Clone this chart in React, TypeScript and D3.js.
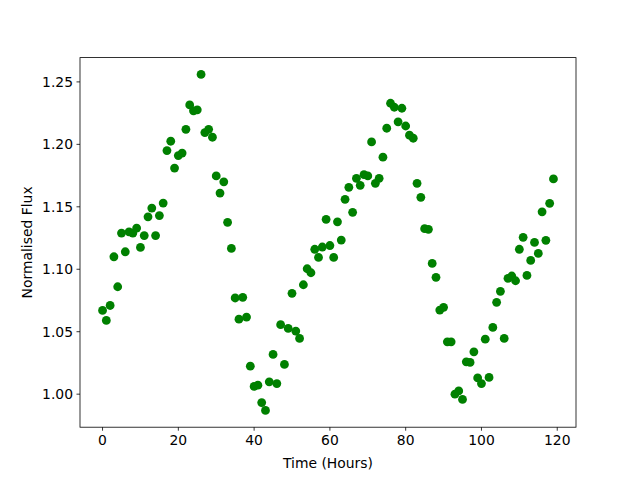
import React from 'react';
import * as d3 from 'd3';

// hourly samples, t = 0..119
const hours = d3.range(0, 120);
const flux = [
  1.067, 1.059, 1.071, 1.110, 1.086, 1.129, 1.114, 1.130, 1.129, 1.133,
  1.1175, 1.127, 1.142, 1.149, 1.127, 1.143, 1.153, 1.195, 1.2025, 1.181,
  1.191, 1.193, 1.212, 1.2316, 1.2268, 1.2276, 1.256, 1.2094, 1.212, 1.2057,
  1.1747, 1.161, 1.170, 1.1376, 1.1167, 1.077, 1.060, 1.0775, 1.0617, 1.0224,
  1.0062, 1.0072, 0.9933, 0.987, 1.0099, 1.0318, 1.0085, 1.0556, 1.0238, 1.0526,
  1.0807, 1.0505, 1.0446, 1.0876, 1.1004, 1.0972, 1.116, 1.1095, 1.1178, 1.140,
  1.119, 1.1095, 1.138, 1.1234, 1.156, 1.1656, 1.1456, 1.1728, 1.1672, 1.1757,
  1.1747, 1.2019, 1.1688, 1.1728, 1.1897, 1.2129, 1.2329, 1.2297, 1.218, 1.2289,
  1.2147, 1.2073, 1.2049, 1.1688, 1.1576, 1.1325, 1.132, 1.1047, 1.0935, 1.0673,
  1.0695, 1.0419, 1.0419, 1.000, 1.0026, 0.9958, 1.0259, 1.0254, 1.0339, 1.013,
  1.0085, 1.044, 1.0134, 1.0534, 1.0735, 1.0823, 1.0446, 1.0927, 1.0946, 1.0908,
  1.116, 1.1256, 1.0951, 1.1071, 1.1215, 1.1127, 1.146, 1.1232, 1.1528, 1.1723,
];
const xTicks = [0, 20, 40, 60, 80, 100, 120];
const yTicks = [1.0, 1.05, 1.1, 1.15, 1.2, 1.25];

const width = 640;
const height = 480;
const margin = { top: 57.6, right: 64, bottom: 52.8, left: 80 };
const font = 'DejaVu Sans, sans-serif';
const fontSize = 13.9;

// matplotlib style 5% padding on data limits
const pad = (ext: [number, number]) => {
  const r = ext[1] - ext[0];
  return [ext[0] - r * 0.05, ext[1] + r * 0.05];
};

export default function App() {
  const x = d3.scaleLinear()
    .domain(pad(d3.extent(hours) as [number, number]))
    .range([margin.left, width - margin.right]);
  const y = d3.scaleLinear()
    .domain(pad(d3.extent(flux) as [number, number]))
    .range([height - margin.bottom, margin.top]);
  const bottom = height - margin.bottom;

  return (
    <svg width={width} height={height} style={{ position: 'absolute', left: 0, top: 0, background: '#fff' }}>
      <rect x={0} y={0} width={width} height={height} fill="#fff" />
      {hours.map((h, i) => (
        <circle key={i} cx={x(h)} cy={y(flux[i])} r={4.4} fill="#008000" />
      ))}
      <rect
        x={margin.left} y={margin.top}
        width={width - margin.left - margin.right}
        height={height - margin.top - margin.bottom}
        fill="none" stroke="#000" strokeWidth={0.8} />
      {/* x axis */}
      {xTicks.map((t) => (
        <g key={t} transform={`translate(${x(t)}, ${bottom})`}>
          <line y2={3.5} stroke="#000" strokeWidth={0.8} />
          <text y={17.4} textAnchor="middle" fontFamily={font} fontSize={fontSize}>{t}</text>
        </g>
      ))}
      {/* y axis */}
      {yTicks.map((t) => (
        <g key={t} transform={`translate(${margin.left}, ${y(t)})`}>
          <line x2={-3.5} stroke="#000" strokeWidth={0.8} />
          <text x={-7} dy="0.36em" textAnchor="end" fontFamily={font} fontSize={fontSize}>{t.toFixed(2)}</text>
        </g>
      ))}
      <text x={(margin.left + width - margin.right) / 2} y={468} textAnchor="middle"
        fontFamily={font} fontSize={fontSize}>Time (Hours)</text>
      <text transform={`translate(32, ${(margin.top + bottom) / 2}) rotate(-90)`} textAnchor="middle"
        fontFamily={font} fontSize={fontSize}>Normalised Flux</text>
    </svg>
  );
}
